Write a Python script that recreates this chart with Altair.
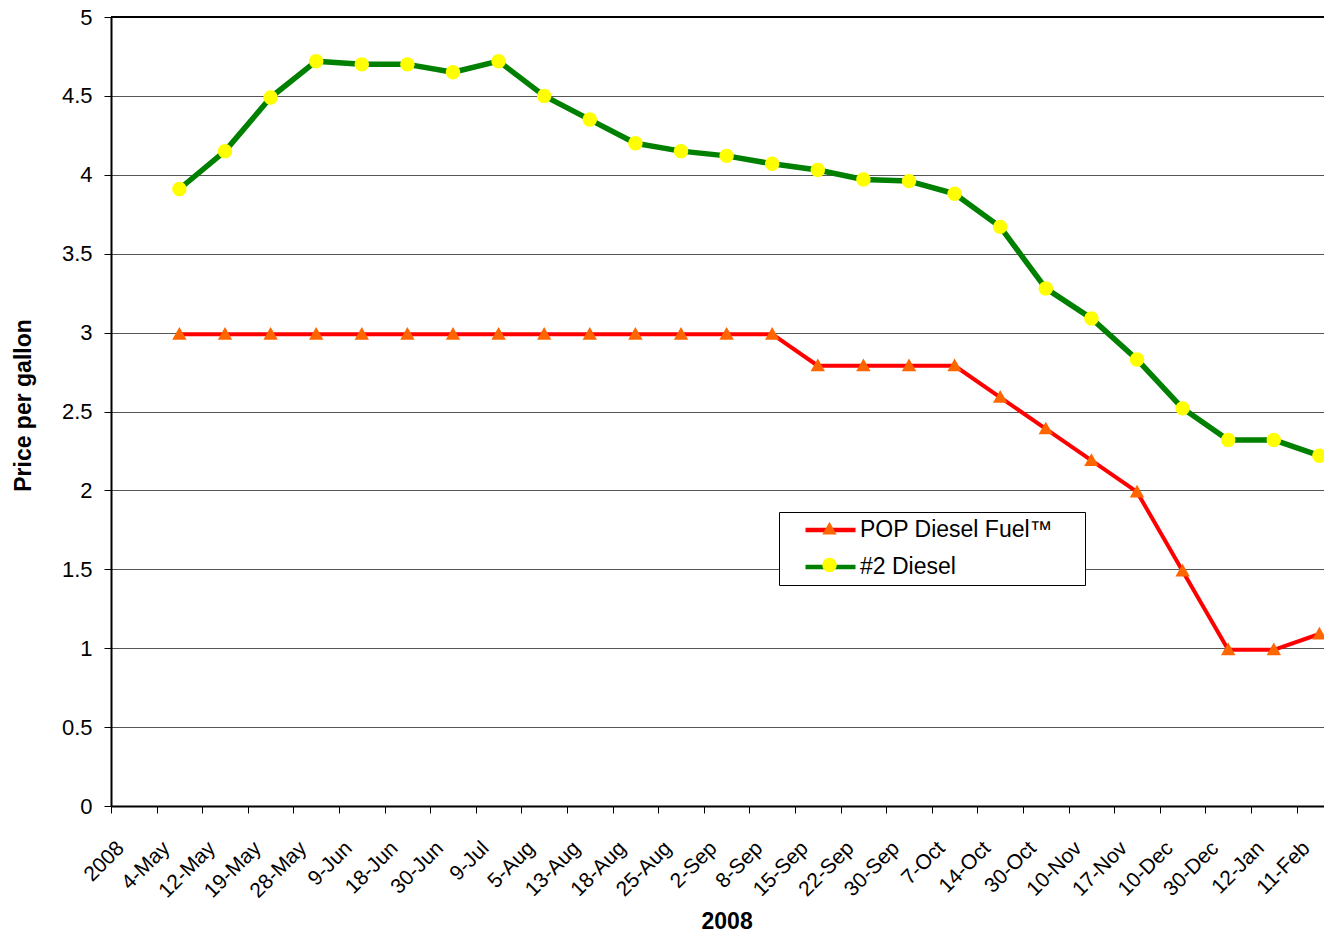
import altair as alt
import pandas as pd

categories = ["2008", "4-May", "12-May", "19-May", "28-May", "9-Jun", "18-Jun", "30-Jun",
              "9-Jul", "5-Aug", "13-Aug", "18-Aug", "25-Aug", "2-Sep", "8-Sep", "15-Sep",
              "22-Sep", "30-Sep", "7-Oct", "14-Oct", "30-Oct", "10-Nov", "17-Nov", "10-Dec",
              "30-Dec", "12-Jan", "11-Feb"]
dates = categories[1:]

pop_diesel = [2.99, 2.99, 2.99, 2.99, 2.99, 2.99, 2.99, 2.99, 2.99, 2.99, 2.99, 2.99, 2.99,
              2.99, 2.79, 2.79, 2.79, 2.79, 2.59, 2.39, 2.19, 1.99, 1.49, 0.99, 0.99, 1.09]
no2_diesel = [3.91, 4.15, 4.49, 4.72, 4.70, 4.70, 4.65, 4.72, 4.50, 4.35, 4.20, 4.15, 4.12,
              4.07, 4.03, 3.97, 3.96, 3.88, 3.67, 3.28, 3.09, 2.83, 2.52, 2.32, 2.32, 2.22]

series_names = ["POP Diesel Fuel\u2122", "#2 Diesel"]
line_colors = ["#FF0000", "#008000"]
marker_colors = ["#FF6600", "#FFFF00"]
line_widths = [4, 5.5]

rows = []
for name, vals in zip(series_names, [pop_diesel, no2_diesel]):
    for d, v in zip(dates, vals):
        rows.append({"date": d, "price": v, "series": name, "series_pt": name})
df = pd.DataFrame(rows)

FONT = "Liberation Sans"
STEP = 45.6
x_range = [0, STEP * len(categories)]

tri_path = "M0,-0.72L0.72,0.55L-0.72,0.55Z"
circ_path = "M0.72,0A0.72,0.72,0,1,1,-0.72,0A0.72,0.72,0,1,1,0.72,0Z"
legend_line_path = "M-2.5,0L2.5,0"

x_enc = alt.X(
    "date:N",
    scale=alt.Scale(type="band", domain=categories, range=x_range, paddingInner=0, paddingOuter=0),
    axis=alt.Axis(
        title="2008", titleFont=FONT, titleFontSize=23, titleFontWeight="bold", titleColor="black",
        titleBaseline="middle", titleY=115, titleX=x_range[1] / 2,
        labelFont=FONT, labelFontSize=21, labelColor="black", labelAngle=-45,
        labelAlign="right", labelBaseline="alphabetic", labelPadding=36, labelOffset=-9,
        tickBand="extent", tickColor="black", tickSize=7, tickWidth=1,
        domainColor="black", domainWidth=2, grid=False,
    ),
)
y_enc = alt.Y(
    "price:Q",
    scale=alt.Scale(domain=[0, 5], nice=False, zero=True),
    axis=alt.Axis(
        title="Price per gallon", titleFont=FONT, titleFontSize=23, titleFontWeight="bold",
        titleColor="black", titleAngle=-90, titleBaseline="middle", titleAlign="center",
        titleX=-88, titleY=388,
        values=[0, 0.5, 1, 1.5, 2, 2.5, 3, 3.5, 4, 4.5, 5], format="~g",
        labelFont=FONT, labelFontSize=22, labelColor="black", labelPadding=12,
        tickColor="black", tickSize=7, tickWidth=1,
        domainColor="black", domainWidth=2,
        grid=True, gridColor="#555555", gridWidth=1,
    ),
)

legend_common = dict(
    orient="none", legendX=668, legendY=495, title=None,
    padding=5.5, symbolOffset=33.5, labelOffset=17, rowPadding=12,
    labelFont=FONT, labelFontSize=23, labelColor="black", labelBaseline="middle",
    labelLimit=400, symbolSize=400,
)

lines = alt.Chart(df).mark_line(strokeCap="butt", strokeJoin="round").encode(
    x=x_enc,
    y=y_enc,
    color=alt.Color(
        "series:N",
        scale=alt.Scale(domain=series_names, range=line_colors),
        legend=alt.Legend(
            symbolType=legend_line_path, symbolStrokeWidth=4.5,
            labelExpr="datum.label + '\u00a0\u00a0\u00a0\u00a0\u200b'",
            strokeColor="black", fillColor="white", zindex=1, **legend_common,
        ),
    ),
    strokeWidth=alt.StrokeWidth(
        "series:N", scale=alt.Scale(domain=series_names, range=line_widths), legend=None
    ),
)

marker_legend = alt.Legend(zindex=2, labelExpr="'\u00a0'", **legend_common)

points = alt.Chart(df).mark_point(filled=True, size=400, opacity=1).encode(
    x=x_enc,
    y=y_enc,
    shape=alt.Shape(
        "series_pt:N", sort="descending",
        scale=alt.Scale(range=[tri_path, circ_path]),
        legend=marker_legend,
    ),
    fill=alt.Fill(
        "series_pt:N", sort="descending",
        scale=alt.Scale(range=marker_colors),
        legend=marker_legend,
    ),
)

top_border = alt.Chart(df).mark_rule(color="black", strokeWidth=2).encode(y=alt.datum(5))

chart = alt.layer(lines, points, top_border).resolve_scale(
    color="independent", shape="independent", fill="independent"
).properties(
    width=1213,
    height=789,
    autosize=alt.AutoSizeParams(type="none"),
    padding={"left": 103, "top": 9, "right": 0, "bottom": 126},
    background="white",
).configure_view(stroke=None)

chart.save("out.html", embed_options={"renderer": "svg", "actions": False})
